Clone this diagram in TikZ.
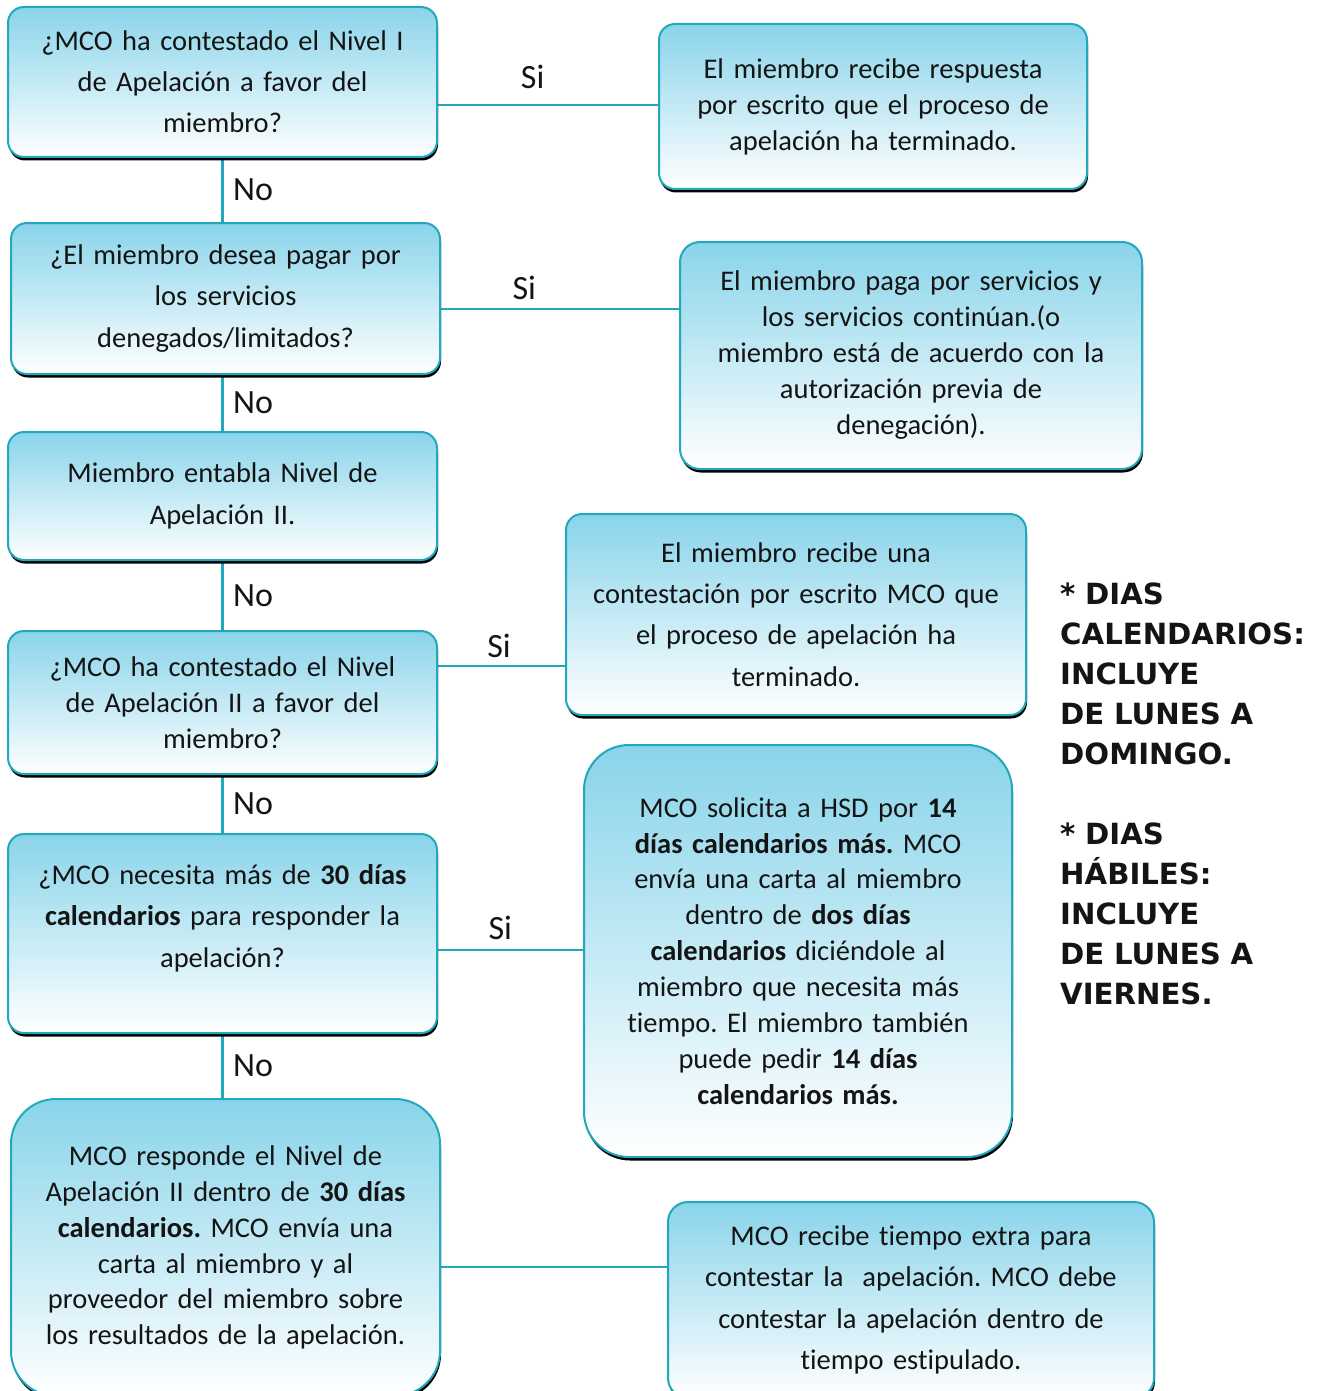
\documentclass[tikz,border=0pt]{standalone}
\usepackage{fontspec}
\setmainfont[Ligatures=NoCommon, RawFeature={-liga;-clig;-calt;-dlig}]{Carlito}
\newfontfamily\notefont{DejaVu Sans}
\usetikzlibrary{shadows,backgrounds}
\frenchspacing

\definecolor{boxtop}{RGB}{137,212,234}
\definecolor{boxline}{RGB}{33,168,188}
\definecolor{inktext}{RGB}{20,20,20}

\tikzset{
  box/.style={draw=boxline, line width=2pt, rounded corners=16pt,
    top color=boxtop, bottom color=white, middle color=boxtop!50!white,
    drop shadow={shadow xshift=1pt, shadow yshift=-3.5pt, fill=black, opacity=1},
    align=center, text width=420pt, inner xsep=4pt, text=inktext,
    font=\fontsize{28.5}{41}\selectfont},
  boxsize/.style 2 args={minimum width=#1pt, minimum height=#2pt},
  lines/.style={font=\fontsize{28.5}{#1}\selectfont},
  link/.style={draw=boxline, line width=2.5pt},
  lbl/.style={font=\fontsize{34}{38}\selectfont, text=inktext},
}

\begin{document}
\begin{tikzpicture}[x=1pt, y=-1pt]
  \useasboundingbox (0,0) rectangle (1324,1391);

  % left column: questions
  \node[box, boxsize={429}{150}] (q1) at (222.5,82) {¿MCO ha contestado el Nivel I\\de Apelación a favor del\\miembro?};
  \node[box, boxsize={429}{151}, lines=41.5] (q2) at (225.5,298.5) {¿El miembro desea pagar por\\los servicios\\denegados/limitados?};
  \node[box, boxsize={429}{128}, lines=42] (q3) at (222.5,496) {Miembro entabla Nivel de\\Apelación II.};
  \node[box, boxsize={429}{143}, lines=36] (q4) at (222.5,702.5) {¿MCO ha contestado el Nivel\\de Apelación II a favor del\\miembro?};
  \node[box, boxsize={429}{199}, lines=41.5] (q5) at (222.5,933.5) {¿MCO necesita más de \textbf{30 días}\\\textbf{calendarios} para responder la\\apelación?\\[-6pt]\mbox{}};
  \node[box, boxsize={429}{297}, lines=35.8, rounded corners=45pt] (q6) at (225.5,1247.5) {MCO responde el Nivel de\\Apelación II dentro de \textbf{30 días}\\\textbf{calendarios.} MCO envía una\\carta al miembro y al\\proveedor del miembro sobre\\los resultados de la apelación.};

  % right column: answers
  \node[box, boxsize={428}{165}, lines=36] (a1) at (873,106.5) {El miembro recibe respuesta\\por escrito que el proceso de\\apelación ha terminado.};
  \node[box, boxsize={462}{227}, lines=36, rounded corners=20pt, text width=450pt] (a2) at (911,355.5) {El miembro paga por servicios y\\los servicios continúan.(o\\miembro está de acuerdo con la\\autorización previa de\\denegación).};
  \node[box, boxsize={460}{201}, lines=41.3, text width=450pt] (a3) at (796,614.5) {El miembro recibe una\\contestación por escrito MCO que\\el proceso de apelación ha\\terminado.};
  \node[box, boxsize={428}{412}, lines=35.9, rounded corners=45pt] (a4) at (798,951) {MCO solicita a HSD por \textbf{14}\\\textbf{días calendarios más.} MCO\\envía una carta al miembro\\dentro de \textbf{dos días}\\\textbf{calendarios} diciéndole al\\miembro que necesita más\\tiempo. El miembro también\\puede pedir \textbf{14 días}\\\textbf{calendarios más.}};
  \node[box, boxsize={486}{196}, lines=41.3, rounded corners=20pt, text width=474pt] (a5) at (911,1300) {MCO recibe tiempo extra para\\contestar la\ \ apelación. MCO debe\\contestar la apelación dentro de\\tiempo estipulado.};

  % note
  \node[anchor=base west, inner sep=0pt, text width=270pt, align=left, text=inktext,
    font=\notefont\bfseries\fontsize{29.2}{40}\selectfont] (note) at (1060,604)
    {* DIAS\\CALENDARIOS:\\INCLUYE\\DE LUNES A\\DOMINGO.\\[40pt]* DIAS\\HÁBILES:\\INCLUYE\\DE LUNES A\\VIERNES.};

  % connectors
  \begin{scope}[on background layer]
    \draw[link] (q1) -- (q1 |- q2.north) node[lbl, midway, right=6pt] {No};
    \draw[link] (q3 |- q2.south) -- (q3) node[lbl, midway, right=6pt] {No};
    \draw[link] (q3) -- (q3 |- q4.north) node[lbl, midway, right=6pt] {No};
    \draw[link] (q4) -- (q4 |- q5.north) node[lbl, midway, right=6pt] {No};
    \draw[link] (q5) -- (q5 |- q6.north) node[lbl, midway, right=6pt] {No};
    \draw[link] ([yshift=-23pt]q1.east) -- ([yshift=-23pt]q1.east -| a1.west) node[lbl, pos=0.43, above=12pt] {Si};
    \draw[link] ([yshift=-10.5pt]q2.east) -- ([yshift=-10.5pt]q2.east -| a2.west) node[lbl, pos=0.35, above=5pt] {Si};
    \draw[link] ([yshift=36.5pt]q4.east) -- ([yshift=36.5pt]q4.east -| a3.west) node[lbl, pos=0.48, above=4pt] {Si};
    \draw[link] ([yshift=-16.5pt]q5.east) -- ([yshift=-16.5pt]q5.east -| a4.west) node[lbl, pos=0.43, above=6pt] {Si};
    \draw[link] ([yshift=-19.5pt]q6.east) -- ([yshift=-19.5pt]q6.east -| a5.west);
  \end{scope}
\end{tikzpicture}
\end{document}
